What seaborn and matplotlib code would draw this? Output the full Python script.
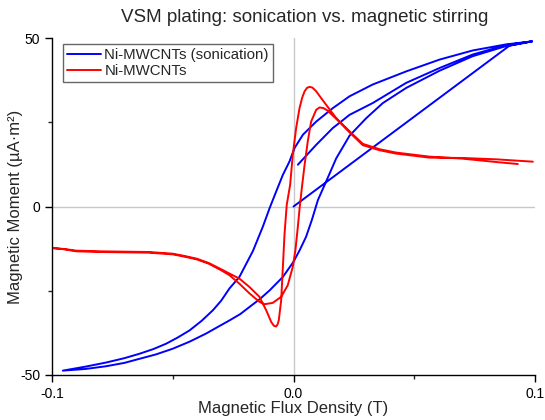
import numpy as np
import pandas as pd
import seaborn as sns
import matplotlib.pyplot as plt
from matplotlib.ticker import MultipleLocator

# blue: Ni-MWCNTs (sonication) -- virgin curve, upper branch, lower branch, partial descent
virgin_b = [0.0, 0.0135, 0.045, 0.0894]
virgin_m = [0.0, 7.2, 24.0, 47.7]
upper_b = [0.0988, 0.088, 0.0742, 0.0605, 0.0467, 0.0328, 0.0232, 0.0163, 0.0094, 0.0039,
           0.0004, -0.0017, -0.0044, -0.0072, -0.0099, -0.0127, -0.0168, -0.0224, -0.0265,
           -0.03, -0.0334, -0.038, -0.0431, -0.048, -0.0527, -0.058, -0.0638, -0.07,
           -0.0776, -0.086, -0.0955]
upper_m = [49.0, 48.1, 46.3, 43.6, 40.1, 36.2, 32.7, 29.2, 25.2, 21.3,
           17.3, 13.3, 9.4, 4.4, -0.5, -6.0, -13.2, -20.9, -24.3,
           -28.0, -30.8, -33.9, -36.8, -38.9, -40.7, -42.3, -43.7, -45.0,
           -46.3, -47.5, -48.7]
lower_b = [-0.0955, -0.086, -0.0776, -0.07, -0.0638, -0.057, -0.05, -0.043, -0.0362,
           -0.031, -0.0265, -0.022, -0.0182, -0.014, -0.0099, -0.0044, 0.0, 0.0026,
           0.0052, 0.0076, 0.0101, 0.0135, 0.0177, 0.0232, 0.0301, 0.037, 0.0467, 0.0605,
           0.0742, 0.088, 0.0988]
lower_m = [-48.7, -48.2, -47.4, -46.4, -45.2, -43.9, -42.2, -40.1, -37.7,
           -35.6, -33.8, -31.9, -29.8, -27.5, -24.9, -20.9, -16.4, -12.9,
           -9.0, -4.0, 1.9, 7.4, 14.3, 21.0, 26.2, 30.7, 35.2, 40.3,
           44.6, 47.6, 49.0]
partial_b = [0.0988, 0.088, 0.0742, 0.0605, 0.0467, 0.0328, 0.0232, 0.019, 0.0163, 0.0094, 0.0018]
partial_m = [49.0, 47.9, 45.1, 41.1, 36.7, 30.7, 27.2, 24.8, 23.3, 18.3, 12.4]

# red: Ni-MWCNTs -- two sweeps, shallow (s) and tall (t)
sweep_s_b = [0.0991, 0.0839, 0.07, 0.0563, 0.0425, 0.0356, 0.0287, 0.0232, 0.018, 0.0155,
             0.014, 0.0124, 0.0108, 0.0094, 0.0073, 0.0059, 0.0046, 0.0036, 0.0026, 0.0018,
             0.0008, -0.0003, -0.0024, -0.0051, -0.0086, -0.012, -0.0141, -0.0182, -0.0224,
             -0.0265, -0.03, -0.035, -0.04, -0.045, -0.05, -0.06, -0.07, -0.08, -0.09,
             -0.095, -0.0995]
sweep_s_m = [13.3, 14.0, 14.4, 14.5, 15.7, 16.7, 18.2, 22.0, 25.8, 27.5,
             28.5, 29.2, 29.4, 28.7, 25.2, 19.3, 12.4, 6.4, 0.0, -6.0,
             -12.9, -17.9, -23.4, -26.8, -28.6, -29.0, -28.3, -25.8, -22.9,
             -20.4, -18.9, -17.0, -15.7, -14.9, -14.2, -13.7, -13.6, -13.5, -13.3,
             -12.7, -12.3]
sweep_t_b = [-0.0995, -0.095, -0.09, -0.08, -0.07, -0.06, -0.05, -0.045, -0.04, -0.035,
             -0.03, -0.0265, -0.0224, -0.0182, -0.0141, -0.0113, -0.0092, -0.0081, -0.0072,
             -0.0066, -0.0061, -0.0051, -0.0044, -0.0037, -0.0028, -0.0014, -0.0003, 0.0011,
             0.0025, 0.0036, 0.0046, 0.0056, 0.0066, 0.0078, 0.0094, 0.011, 0.0135, 0.0177,
             0.0232, 0.0287, 0.0356, 0.0425, 0.0563, 0.07, 0.0839, 0.0929]
sweep_t_m = [-12.4, -12.6, -13.1, -13.3, -13.4, -13.5, -14.0, -14.7, -15.5, -16.8,
             -18.6, -19.9, -21.4, -23.9, -26.8, -30.8, -34.3, -35.4, -35.6,
             -35.0, -33.8, -27.8, -17.9, -8.0, 0.5, 6.4, 15.3, 23.3,
             29.2, 32.3, 34.2, 35.2, 35.5, 35.3, 34.2, 32.6, 30.2, 26.2,
             22.3, 18.6, 17.0, 16.0, 14.8, 14.2, 13.2, 12.6]

blue = pd.DataFrame({
    "B": virgin_b + upper_b + lower_b + partial_b,
    "M": virgin_m + upper_m + lower_m + partial_m,
})
red = pd.DataFrame({
    "B": sweep_s_b + sweep_t_b,
    "M": sweep_s_m + sweep_t_m,
})

sns.set_style("ticks")
plt.rcParams['font.family'] = ['Liberation Sans', 'DejaVu Sans']

fig = plt.figure(figsize=(5.45, 4.2), dpi=100)
ax = fig.add_axes([52/545, 1-375/420, (535-52)/545, (375-38)/420])

ax.axhline(0, color="#c8c8c8", lw=1, zorder=0)
ax.axvline(0, color="#c8c8c8", lw=1, zorder=0)

sns.lineplot(data=blue, x="B", y="M", sort=False, estimator=None, color="#0000ff",
             lw=1.4, label="Ni-MWCNTs (sonication)", ax=ax)
sns.lineplot(data=red, x="B", y="M", sort=False, estimator=None, color="#ff0000",
             lw=1.4, label="Ni-MWCNTs", ax=ax)

ax.set_xlim(-0.1, 0.1)
ax.set_ylim(-50, 50)
ax.set_xticks([-0.1, 0.0, 0.1])
ax.set_xticklabels(["-0.1", "0.0", "0.1"])
ax.set_yticks([-50, 0, 50])
ax.set_yticklabels(["-50", "0", "50"])
ax.xaxis.set_minor_locator(MultipleLocator(0.05))
ax.yaxis.set_minor_locator(MultipleLocator(25))
ax.tick_params(which="major", direction="out", length=5, width=1, labelsize=10, colors="black")
ax.tick_params(which="minor", direction="out", length=3, width=1)
sns.despine(ax=ax)
for s in ["left", "bottom"]:
    ax.spines[s].set_color("black")
    ax.spines[s].set_linewidth(1)

ax.set_xlabel("Magnetic Flux Density (T)", fontsize=12)
ax.set_ylabel("Magnetic Moment (µA·m²)", fontsize=12)
ax.xaxis.set_label_coords(0.5, (375-408)/337)
ax.yaxis.set_label_coords((16-52)/483, 0.5)
ax.xaxis.label.set_va("center")
ax.yaxis.label.set_va("center")
fig.text(305/545, 1-17/420, "VSM plating: sonication vs. magnetic stirring",
         ha="center", va="center", fontsize=13.5)

leg = ax.legend(loc="upper left", bbox_to_anchor=(11/483, 1-6/337), frameon=True,
                fancybox=False, edgecolor="#404040", fontsize=10.8, handlelength=2.3,
                borderpad=0.25, labelspacing=0.15, handletextpad=0.2, borderaxespad=0)
leg.get_frame().set_linewidth(1)

fig.savefig("out.png", dpi=100)
